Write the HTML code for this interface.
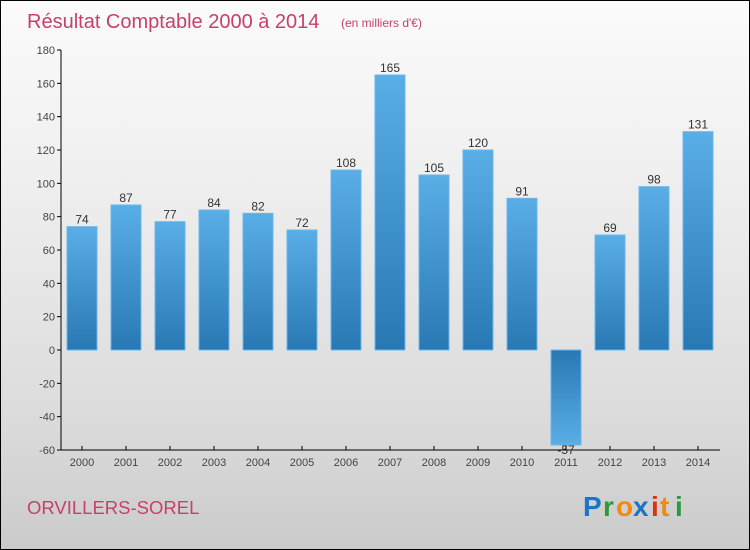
<!DOCTYPE html>
<html><head><meta charset="utf-8"><style>
body{margin:0}
#c{position:relative;width:748px;height:548px;border:1px solid #000;background:linear-gradient(#fbfbfb,#f0f0f0 30%,#dcdcdc 75%,#cbcbcb);overflow:hidden;font-family:"Liberation Sans",sans-serif}
</style></head><body>
<div id="c">
<svg width="748" height="548">
<defs>
<linearGradient id="gp" x1="0" y1="0" x2="0" y2="1"><stop offset="0" stop-color="#5aaee6"/><stop offset="1" stop-color="#2878b4"/></linearGradient>
<linearGradient id="gn" x1="0" y1="0" x2="0" y2="1"><stop offset="0" stop-color="#2878b4"/><stop offset="1" stop-color="#5aaee6"/></linearGradient>
</defs>
<text x="26" y="27" font-size="20" fill="#c8406a">Résultat Comptable 2000 à 2014</text>
<text x="340" y="26" font-size="12" fill="#c8406a">(en milliers d'€)</text>
<g id="plot"></g>
<text x="26" y="513" font-size="18.5" fill="#c8406a">ORVILLERS-SOREL</text>
<g font-size="28" font-weight="bold" font-family="Liberation Sans, sans-serif">
<text x="582" y="515" fill="#1a74c8">P</text><text x="602" y="515" fill="#2a9a3a">r</text><text x="615" y="515" fill="#f08a10">o</text><text x="632" y="515" fill="#1a74c8">x</text><text x="650" y="515" fill="#e03010">i</text><text x="659" y="515" fill="#f08a10">t</text><text x="674" y="515" fill="#2a9a3a">i</text>
</g>
</svg>
</div>
<script>
const years=["2000","2001","2002","2003","2004","2005","2006","2007","2008","2009","2010","2011","2012","2013","2014"];
const values=[74,87,77,84,82,72,108,165,105,120,91,-57,69,98,131];
const ticks=[-60,-40,-20,0,20,40,60,80,100,120,140,160,180];
const NS="http://www.w3.org/2000/svg";
const g=document.getElementById('plot');
const y=v=>350-(v)*400/240;
const x=i=>81+i*44;
function mk(t,a){const e=document.createElementNS(NS,t);for(const k in a)e.setAttribute(k,a[k]);g.appendChild(e);return e;}
let ax=mk('line',{x1:60,y1:49,x2:60,y2:449,stroke:'#000'});


let bx=mk('line',{x1:60,y1:449,x2:719,y2:449,stroke:'#000'});


ticks.forEach(t=>{
 const l=mk('line',{x1:56,y1:y(t)-1,x2:60,y2:y(t)-1,stroke:'#000'});
 
 
 const tx=mk('text',{x:54,y:y(t)+3,'font-size':11,fill:'#444','text-anchor':'end'});
 tx.textContent=t;
 
 
});
years.forEach((yr,i)=>{
 const v=values[i],cx=x(i);
 const top=v>=0?y(v):y(0),h=Math.abs(y(v)-y(0));
 const r=mk('rect',{x:cx-15,y:top-1,width:30,height:h,fill:v>=0?'url(#gp)':'url(#gn)',stroke:'#6ab6ea','stroke-width':1});
 
 
 const lt=mk('text',{x:cx,y:v>=0?y(v)-4:y(v)+8,'font-size':12,fill:'#333','text-anchor':'middle'});
 lt.textContent=v;
 
 
 const tk=mk('line',{x1:cx,y1:445,x2:cx,y2:449,stroke:'#000'});
 
 
 const xl=mk('text',{x:cx,y:465,'font-size':11,fill:'#444','text-anchor':'middle'});
 xl.textContent=yr;
 
 
});
</script>
</body></html>
